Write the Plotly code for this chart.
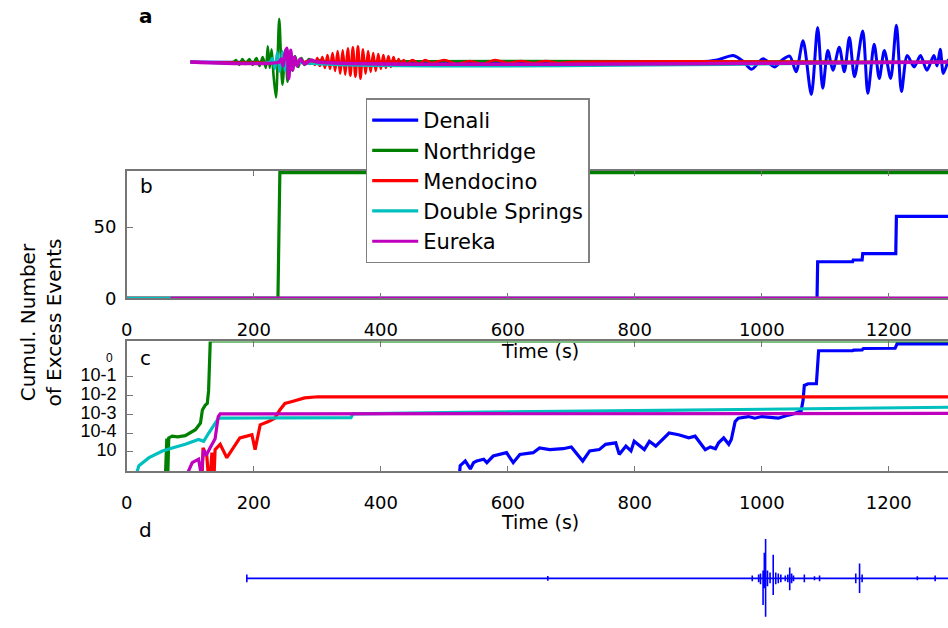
import plotly.graph_objects as go

W, H = 948, 628

names = ["Denali", "Northridge", "Mendocino", "Double Springs", "Eureka"]
colors = ["#0000FF", "#008000", "#FF0000", "#00BFBF", "#BF00BF"]

# ---------------- panel a : seismograms (amplitude, arbitrary units) ----------------
a_t_denali = [100, 900, 930, 955, 970, 984, 1002, 1020, 1032, 1044, 1054, 1065, 1078, 1088, 1096,
              1104, 1112, 1122, 1130, 1138, 1146, 1159, 1167, 1177, 1185, 1193, 1203, 1212, 1220,
              1229, 1240, 1250, 1260, 1271, 1276, 1281, 1286, 1294]
a_v_denali = [0, 0, 2, 6.6, 1, -7.4, 3.3, -5, 2, 6, -10, 21.6, -33, 35, -26.7,
              11.6, -8.4, 15, -10, 25, -15, 31.6, -31.7, 18, -16.7, 11.6, -16.7, 37.3, -30,
              6.6, -5, 6.6, -8.4, 6.6, -4, 13, -11.6, 3]

a_t_northridge = [100, 168, 172, 177, 182, 187, 193, 198, 204, 209, 214, 219, 222, 225, 228, 231,
                  235, 240, 245, 250, 253, 257, 261, 265, 270, 275, 280, 287, 295, 305, 320, 335, 1294]
a_v_northridge = [0, 0, 2, -3, 3, -2, 3, -3, 4, -4, 5, -6, 16, -6, 13, -13,
                  -36, 44, -23, 13, -20, 9, -9, 6, -5, 4, -3, 3, -2, 2, -1, 0, 0]

a_t_mendocino = [100, 280, 284, 288, 292, 296, 300, 304, 308, 312, 316, 320, 324, 328, 332, 336,
                 340, 344, 348, 352, 356, 360, 364, 368, 372, 376, 380, 384, 388, 392, 396, 400,
                 404, 408, 412, 416, 420, 424, 428, 432, 436, 440, 450, 460, 470, 480, 500, 520,
                 540, 560, 580, 600, 620, 640, 660, 680, 700, 1294]
a_v_mendocino = [0, 0, 1, -2, 2, -3, 4, -4, 5, -6, 7, -7, 9, -9, 11, -12,
                 12, -13, 14, -14, 15, -15, 16, -17, 13, -12, 11, -10, 9, -9, 8, -7,
                 7, -6, 6, -5, 5, -4, 3, -3, 2, -2, 2, -2, 2, -1, 2, -2,
                 1, -2, 2, -1, 1, -1, 1, -1, 0, 0]

a_t_doublesprings = [100, 225, 229, 233, 237, 241, 245, 249, 253, 257, 262, 268, 1294]
a_v_doublesprings = [0, 0, 4, -7, 10, -10, 11, -9, 8, -6, 3, 0, 0]

a_t_eureka = [100, 240, 243, 246, 249, 252, 255, 258, 261, 264, 268, 273, 280, 290, 300, 1294]
a_v_eureka = [0, 0, 3, -4, 8, 14, -17, 12, -8, 5, -4, 3, -2, 2, 0, 0]

# ---------------- panel b : cumulative number of excess events (linear) ----------------
b_t_denali = [0, 1087, 1088, 1143, 1144, 1158, 1159, 1211, 1212, 1300]
b_v_denali = [0, 0, 25.7, 25.7, 26.9, 26.9, 31.4, 31.4, 57.4, 57.4]
b_t_northridge = [0, 238, 241, 1300]
b_v_northridge = [0, 0, 88, 88]
b_t_mendocino = [0, 1300]
b_v_mendocino = [0, 0]
b_t_doublesprings = [0, 1300]
b_v_doublesprings = [0, 0]
b_t_eureka = [69, 1300]
b_v_eureka = [0, 0]

# ---------------- panel c : cumulative number (log scale) ----------------
c_t_denali = [522, 525, 533, 541, 546, 551, 562, 567, 577, 598, 608.5, 619, 640, 650, 666, 687,
              700, 718, 729, 744, 754, 770, 775.5, 786, 794, 799, 815, 823, 833, 843, 854, 869,
              885, 895, 906, 911, 919, 927, 932, 940, 948, 952, 958, 963, 979, 989, 1000, 1026,
              1042, 1052, 1062, 1065, 1067, 1073, 1086, 1089.5, 1143, 1145, 1158, 1160, 1210,
              1213, 1300]
c_v_denali = [1e-6, 1.8e-5, 3.2e-5, 1.2e-5, 2.6e-5, 3.2e-5, 4.0e-5, 2.6e-5, 5.9e-5, 8.9e-5, 2.6e-5,
              7.2e-5, 8.9e-5, 1.6e-4, 1.3e-4, 1.45e-4,
              1.8e-4, 3.2e-5, 1.1e-4, 1.3e-4, 2.5e-4, 3.0e-4, 7.2e-5, 2.0e-4, 1.1e-4, 3.6e-4,
              1.3e-4, 3.6e-4, 2.0e-4, 4.5e-4, 1.0e-3, 8.1e-4,
              5.5e-4, 6.8e-4, 2.0e-4, 1.3e-4, 1.8e-4, 1.45e-4, 3.0e-4, 5.5e-4, 2.5e-4, 4.5e-4,
              4.1e-3, 6.2e-3, 7.6e-3, 6.2e-3, 7.6e-3, 6.2e-3,
              9.1e-3, 1.12e-2, 1.55e-2, 5.6e-2, 0.35, 0.43, 0.43, 25, 25.5, 27, 27.5, 33, 34,
              58, 58]

c_t_northridge = [60, 63, 64, 66, 71.5, 80, 92, 100, 108, 116, 119, 123.6, 126.7, 128.8, 131.4, 135, 1300]
c_v_northridge = [1e-6, 5.0e-4, 1e-6, 5.5e-4, 6.8e-4, 6.3e-4, 7.2e-4, 1.0e-3, 1.5e-3, 3.4e-3,
                  1.7e-2, 3.1e-2, 3.8e-2, 0.19, 85, 85, 85]

c_t_mendocino = [118, 120, 126, 130, 134, 136.6, 139, 147, 157.5, 168, 178, 189, 197, 202, 210,
                 223, 233, 241, 249, 259, 267, 280, 301, 1300]
c_v_mendocino = [1e-6, 1.6e-4, 5.9e-5, 1e-6, 8.9e-5, 1e-6, 1.3e-4, 2.5e-4, 4.8e-5, 1.6e-4,
                 5.5e-4, 6.8e-4, 8.1e-4, 1.3e-4, 2.75e-3, 4.1e-3, 6.2e-3, 1.7e-2, 3.8e-2,
                 4.7e-2, 5.6e-2, 7.6e-2, 8.7e-2, 8.5e-2]

c_t_doublesprings = [8, 19, 35, 56, 71.5, 92, 113, 121, 129, 139, 144.5, 250, 353, 356, 450,
                     530, 800, 1105, 1300]
c_v_doublesprings = [1e-6, 1.8e-5, 4.8e-5, 1.1e-4, 1.6e-4, 2.5e-4, 4.5e-4, 3.6e-4, 1.0e-3,
                     3.4e-3, 6.2e-3, 6.5e-3, 6.6e-3, 1.05e-2, 1.1e-2, 1.26e-2, 1.58e-2,
                     2.1e-2, 2.4e-2]

c_t_eureka = [84.5, 103, 113, 117, 121, 125, 131, 139, 144, 147, 1300]
c_v_eureka = [1e-6, 2.6e-5, 4.0e-5, 6.3e-6, 1.26e-4, 6.3e-5, 1.6e-4, 5.0e-4, 7.6e-3,
              1.05e-2, 1.12e-2]

c_tickvals = [1, 0.1, 0.01, 0.001, 0.0001]
c_ticktext = ["10-1", "10-2", "10-3", "10-4", "10"]

# ---------------- panel d : single record with spikes ----------------
d_t_start, d_t_end = 189, 1300
d_spike_t = [189, 663, 985, 995, 998, 1002, 1004, 1006, 1009, 1013, 1018, 1022, 1026, 1030,
             1037, 1041, 1044, 1047, 1050, 1067, 1083, 1091, 1148, 1154, 1158, 1245, 1273]
d_spike_up = [4, 2.5, 3, 4, 5, 8, 26, 42, 8, 6, 24, 6, 5, 4, 3, 4, 11, 5, 3, 4, 2, 3, 5, 15, 4, 2, 3]
d_spike_dn = [4, 2.5, 3, 4, 6, 27, 10, 39, 8, 5, 17, 6, 5, 4, 3, 4, 12, 5, 3, 4, 2, 3, 5, 15, 4, 2, 3]

x_ticks = [0, 200, 400, 600, 800, 1000, 1200]
b_yticks = [0, 50]

# ---------------- figure ----------------
X0 = 121.6
XRANGE = [0, (W - X0) / 0.639]
FONT = "DejaVu Sans"
AXC = "#767676"


def xd(px):
    return px / W


def yd(py):
    return 1 - py / H


fig = go.Figure()

a_t = [a_t_denali, a_t_northridge, a_t_mendocino, a_t_doublesprings, a_t_eureka]
a_v = [a_v_denali, a_v_northridge, a_v_mendocino, a_v_doublesprings, a_v_eureka]
a_w = [3, 2.6, 2.6, 2.6, 3.5]
for i in range(5):
    fig.add_trace(go.Scatter(x=a_t[i], y=a_v[i], mode="lines", xaxis="x", yaxis="y",
                             line=dict(color=colors[i], width=a_w[i], shape="spline", smoothing=0.8),
                             showlegend=False, hoverinfo="skip"))

b_t = [b_t_denali, b_t_northridge, b_t_mendocino, b_t_doublesprings, b_t_eureka]
b_v = [b_v_denali, b_v_northridge, b_v_mendocino, b_v_doublesprings, b_v_eureka]
for i in range(5):
    fig.add_trace(go.Scatter(x=b_t[i], y=b_v[i], mode="lines", xaxis="x2", yaxis="y2", name=names[i],
                             line=dict(color=colors[i], width=3.2), showlegend=True))

c_t = [c_t_denali, c_t_northridge, c_t_mendocino, c_t_doublesprings, c_t_eureka]
c_v = [c_v_denali, c_v_northridge, c_v_mendocino, c_v_doublesprings, c_v_eureka]
for i in range(5):
    fig.add_trace(go.Scatter(x=c_t[i], y=c_v[i], mode="lines", xaxis="x3", yaxis="y3",
                             line=dict(color=colors[i], width=3.2), showlegend=False))

dx = [d_t_start]
dy = [0]
for t, u, dn in zip(d_spike_t, d_spike_up, d_spike_dn):
    dx += [t, t, t, t]
    dy += [0, u, -dn, 0]
dx.append(d_t_end)
dy.append(0)
fig.add_trace(go.Scatter(x=dx, y=dy, mode="lines", xaxis="x4", yaxis="y4",
                         line=dict(color=colors[0], width=1.6), showlegend=False))

hidden_x = dict(domain=[xd(X0), 1], range=XRANGE, visible=False)
frame_x = dict(domain=[xd(X0), 1], range=XRANGE, showline=True, linecolor=AXC, linewidth=1.5,
               mirror="ticks", ticks="inside", ticklen=6, tickcolor=AXC, tickwidth=1.2,
               tickvals=x_ticks, showgrid=False, zeroline=False,
               tickfont=dict(family=FONT, size=18, color="black"), ticklabelstandoff=14)

fig.update_layout(
    width=W, height=H, margin=dict(l=0, r=0, t=0, b=0),
    paper_bgcolor="white", plot_bgcolor="white",
    xaxis=dict(hidden_x, anchor="y"),
    yaxis=dict(domain=[yd(113), yd(13)], range=[-50, 50], visible=False),
    xaxis2=dict(frame_x, anchor="y2"),
    yaxis2=dict(domain=[yd(303.3), yd(173.3)], range=[0, 89.5], showline=True, linecolor=AXC,
                linewidth=1.5, ticks="inside", ticklen=6, tickcolor=AXC, tickwidth=1.2,
                tickvals=b_yticks, showgrid=False, zeroline=False, anchor="x2",
                tickfont=dict(family=FONT, size=18, color="black"), ticklabelstandoff=5),
    xaxis3=dict(frame_x, anchor="y3"),
    yaxis3=dict(domain=[yd(479), yd(347)], type="log", range=[-5.05, 1.895], showline=True,
                linecolor=AXC, linewidth=1.5, ticks="inside", ticklen=6, tickcolor=AXC,
                tickwidth=1.2, tickvals=c_tickvals, ticktext=c_ticktext, showgrid=False,
                zeroline=False, anchor="x3", ticklabelshift=-2,
                tickfont=dict(family="Liberation Sans", size=18, color="black"), ticklabelstandoff=5),
    xaxis4=dict(hidden_x, anchor="y4"),
    yaxis4=dict(domain=[yd(628), yd(547.7)], range=[-40.3, 40], visible=False),
    legend=dict(x=xd(362), y=yd(100), xanchor="left", yanchor="top", bgcolor="white",
                bordercolor="#808080", borderwidth=1.5, entrywidth=175, entrywidthmode="pixels",
                font=dict(family=FONT, size=21, color="black"), itemwidth=46),
)

ann = []
for txt, px, py, bold in [("a", 140.5, 16, True), ("b", 141, 189, False), ("c", 140, 364, False),
                          ("d", 140, 538.5, False)]:
    ann.append(dict(text=f"<b>{txt}</b>" if bold else txt, x=xd(px), y=yd(py), xref="paper",
                    yref="paper", showarrow=False, xanchor="center", yanchor="middle",
                    font=dict(family=FONT, size=20, color="black")))
for py in [356.5, 530]:
    ann.append(dict(text="Time (s)", x=xd(537), y=yd(py), xref="paper", yref="paper",
                    showarrow=False, xanchor="center", yanchor="middle",
                    font=dict(family=FONT, size=19, color="black")))
ann.append(dict(text="Cumul. Number<br>of Excess Events", x=xd(35), y=yd(328), xref="paper",
                yref="paper", showarrow=False, xanchor="center", yanchor="middle", textangle=-90,
                font=dict(family=FONT, size=20, color="black")))
ann.append(dict(text="0", x=xd(104), y=yd(363.5), xref="paper", yref="paper", showarrow=False,
                xanchor="center", yanchor="middle",
                font=dict(family="Liberation Sans", size=12, color="black")))
fig.update_layout(annotations=ann)

fig.write_html("out.html")
